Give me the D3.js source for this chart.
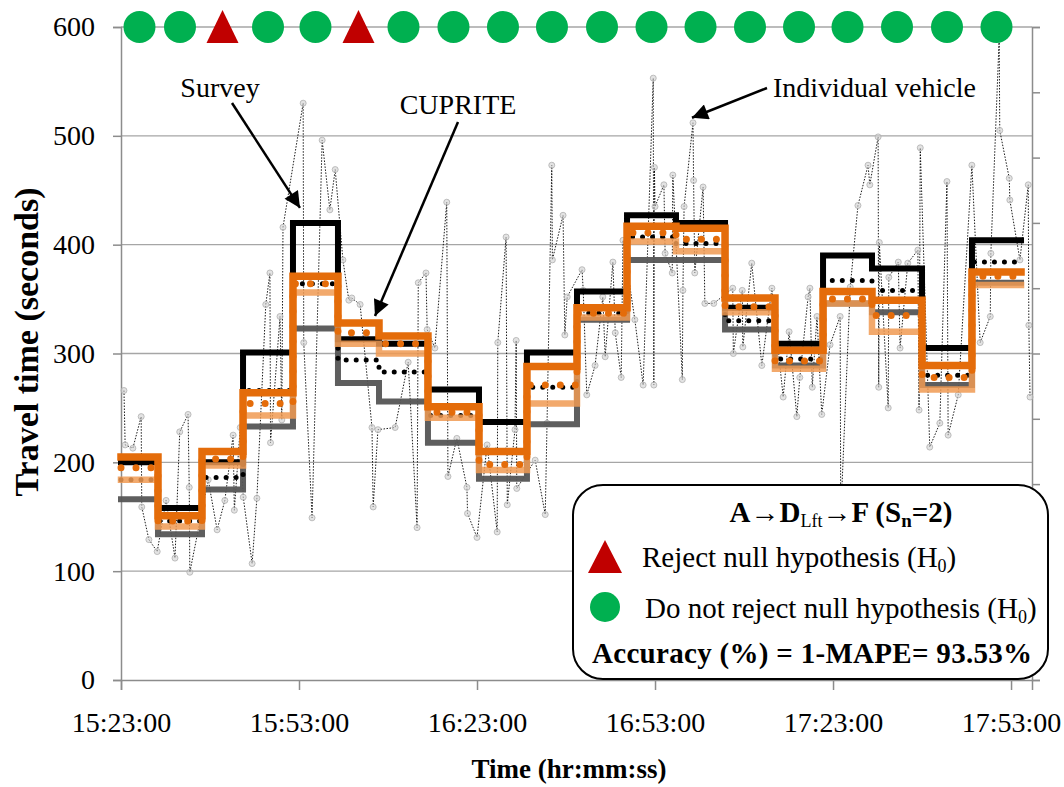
<!DOCTYPE html>
<html>
<head>
<meta charset="utf-8">
<script src="https://cdn.jsdelivr.net/npm/d3@7"></script>
<style>
  body { margin: 0; background: #fff; }
  text { font-family: "Liberation Serif", "Times New Roman", serif; fill: #000; }
</style>
</head>
<body>
<svg id="chart" width="1064" height="787"></svg>
<script>
// survey vs CUPRITE step bands + individual vehicle travel times, A->D(Lft)->F
const START = "15:23:00";
const X_END = "17:56:32";
const xTicks = ["15:23:00", "15:53:00", "16:23:00", "16:53:00", "17:23:00", "17:53:00"];
const yTicks = [0, 100, 200, 300, 400, 500, 600];

// interval edges (19 intervals)
const stepEdges = ["15:23:00", "15:29:14", "15:36:39", "15:43:34", "15:51:59", "15:59:34", "16:06:29",
  "16:14:44", "16:23:20", "16:31:25", "16:39:51", "16:48:17", "16:56:32", "17:04:48", "17:13:13",
  "17:21:19", "17:29:34", "17:38:00", "17:46:25", "17:54:41"];

const surveyUpper = [200, 158, 200, 301, 420, 313, 309, 267, 237, 301, 357, 427, 420, 342, 309, 390, 378, 305, 404];
const surveyMean  = [184, 146, 186, 266, 364, 294, 283, 243, 211, 269, 337, 407, 401, 330, 295, 367, 358, 280, 384];
const surveyLower = [166, 134, 175, 233, 323, 273, 256, 218, 185, 235, 331, 386, 386, 322, 289, 346, 338, 271, 365];
const cupUpper    = [205, 151, 210, 264, 371, 328, 316, 251, 210, 288, 342, 417, 415, 351, 303, 357, 349, 289, 375];
const cupMean     = [195, 146, 203, 254, 364, 319, 309, 246, 198, 271, 337, 411, 405, 343, 293, 350, 335, 278, 371];
const cupLower    = [184, 141, 197, 243, 356, 309, 300, 241, 193, 254, 333, 403, 394, 338, 286, 346, 320, 267, 363];

// t-test result per interval (top row)
const hypothesis = ["keep", "keep", "reject", "keep", "keep", "reject", "keep", "keep", "keep", "keep",
  "keep", "keep", "keep", "keep", "keep", "keep", "keep", "keep", "keep"];

// individual vehicles: minutes after 15:23:00, travel time (s)
const vehMin = [0.5, 0.7, 2.0, 3.4, 3.5, 4.7, 6.1, 7.6, 9.1, 9.9, 11.3, 11.5, 11.6, 14.7, 16.2, 17.5, 18.9, 19.1,
  20.1, 20.6, 22.1, 22.9, 24.4, 25.1, 25.2, 26.8, 27.1, 27.3, 30.7, 30.8, 32.2, 33.9, 35.2, 36.1, 37.4, 38.4,
  38.9, 40.3, 42.3, 42.5, 43.3, 46.2, 48.4, 49.9, 50.1, 51.4, 51.6, 52.9, 54.9, 55.1, 56.6, 58.3, 58.4, 60.0,
  61.7, 63.4, 63.5, 64.9, 65.1, 66.4, 66.6, 66.7, 69.8, 71.5, 71.8, 72.6, 72.7, 74.5, 74.8, 75.2, 77.7, 77.9,
  78.5, 79.9, 81.2, 81.6, 82.9, 83.3, 84.3, 84.6, 86.6, 88.0, 89.7, 89.8, 89.9, 90.0, 91.5, 91.7, 92.9, 93.0,
  94.6, 94.7, 94.9, 96.4, 96.5, 96.7, 98.1, 98.4, 99.9, 103.1, 103.2, 104.7, 104.8, 106.3, 108.0, 109.7, 111.6,
  112.6, 113.9, 114.4, 115.8, 116.1, 116.5, 117.3, 118.1, 119.5, 121.2, 121.3, 122.9, 124.2, 125.9, 126.2,
  127.6, 127.7, 127.8, 129.3, 129.4, 131.0, 131.3, 132.6, 134.3, 134.5, 134.7, 136.3, 138.0, 139.2, 139.4,
  141.1, 143.4, 144.8, 146.5, 146.6, 148.0, 148.1, 149.7, 149.8, 151.5, 152.9, 153.0, 153.2];
const vehTT = [266, 216, 213, 242, 159, 129, 118, 165, 112, 228, 244, 177, 99, 184, 138, 165, 225, 156,
  232, 168, 107, 167, 345, 374, 218, 334, 239, 416, 530, 310, 149, 496, 432, 469, 386, 349,
  351, 345, 232, 159, 230, 232, 292, 140, 365, 374, 322, 305, 439, 187, 222, 177, 153, 131,
  216, 136, 310, 407, 161, 230, 312, 176, 202, 152, 236, 473, 386, 427, 317, 352, 377, 358,
  262, 289, 352, 297, 384, 319, 278, 404, 331, 271, 553, 271, 471, 435, 455, 392, 374, 464,
  276, 358, 435, 512, 459, 374, 453, 346, 346, 360, 300, 358, 306, 383, 289, 360, 260,
  320, 242, 278, 352, 360, 269, 334, 244, 308, 334, 150, 361, 436, 473, 455,
  499, 269, 402, 250, 370, 384, 305, 383, 395, 248, 489, 214, 236, 458, 225,
  262, 473, 310, 334, 392, 590, 505, 461, 441, 386, 455, 326, 260];

const C = {
  orange: "#E46C0A", lightOrange: "#F09A52", darkGray: "#555555",
  green: "#00B050", red: "#C00000", grid: "#A6A6A6", axis: "#8C8C8C"
};

const svg = d3.select("#chart");
const margin = { left: 121, right: 32, top: 27, bottom: 107 };
const W = 1064, H = 787;

const parse = d3.timeParse("%H:%M:%S");
const t0 = parse(START);
const x = d3.scaleTime().domain([t0, parse(X_END)]).range([margin.left, W - margin.right]);
const y = d3.scaleLinear().domain([0, 600]).range([H - margin.bottom, margin.top]);
const y2 = d3.scaleLinear().domain([0, 1]).range(y.range());

// gridlines
svg.append("g").selectAll("line").data(yTicks.slice(1)).join("line")
  .attr("x1", x.range()[0]).attr("x2", x.range()[1])
  .attr("y1", d => y(d)).attr("y2", d => y(d))
  .attr("stroke", C.grid).attr("stroke-width", 1.3);

// axes
const fontSize = 27;
const gy = svg.append("g").attr("transform", `translate(${margin.left},0)`)
  .call(d3.axisLeft(y).tickValues(yTicks).tickSize(8).tickPadding(18));
const gx = svg.append("g").attr("transform", `translate(0,${y(0)})`)
  .call(d3.axisBottom(x).tickValues(xTicks.map(parse)).tickFormat(d3.timeFormat("%H:%M:%S")).tickSize(10).tickPadding(22));
const gr = svg.append("g").attr("transform", `translate(${x.range()[1]},0)`)
  .call(d3.axisRight(y2).ticks(10).tickFormat("").tickSize(8));
[gx, gy, gr].forEach(g => {
  g.selectAll("path,line").attr("stroke", C.axis).attr("stroke-width", 1.5);
  g.selectAll("text").attr("font-size", 28).attr("font-family", null);
});

// individual vehicle
const veh = vehMin.map((m, i) => [new Date(t0.getTime() + m * 60000), vehTT[i]]);
svg.append("path").datum(veh)
  .attr("d", d3.line().x(d => x(d[0])).y(d => y(d[1])))
  .attr("fill", "none").attr("stroke", "#000").attr("stroke-width", 0.9).attr("stroke-dasharray", "1.5,1.5");
svg.append("g").selectAll("circle").data(veh).join("circle")
  .attr("cx", d => x(d[0])).attr("cy", d => y(d[1])).attr("r", 3)
  .attr("fill", "#d0d0d0").attr("fill-opacity", 0.6).attr("stroke", "#b0b0b0").attr("stroke-width", 0.8);

// step series
const edges = stepEdges.map(parse);
const stepLine = d3.line().curve(d3.curveStepAfter).x(d => x(d[0])).y(d => y(d[1]));
function stepPts(vals) { return edges.map((t, i) => [t, vals[Math.min(i, vals.length - 1)]]); }
function drawStep(vals, stroke, width, opts = {}) {
  svg.append("path").datum(stepPts(vals))
    .attr("d", stepLine).attr("fill", "none")
    .attr("stroke", stroke).attr("stroke-width", width)
    .attr("stroke-opacity", opts.opacity || 1)
    .attr("stroke-linecap", opts.cap || "square")
    .attr("stroke-linejoin", "miter")
    .attr("stroke-dasharray", opts.dash || null);
}
drawStep(surveyLower, C.darkGray, 6, { opacity: 0.95 });
drawStep(surveyUpper, "#000", 6);
drawStep(surveyMean, "#000", 5, { cap: "round", dash: "0,10" });
drawStep(cupLower, C.lightOrange, 6.5, { opacity: 0.85 });
drawStep(cupUpper, C.orange, 7.5);
drawStep(cupMean, C.orange, 7, { cap: "round", dash: "0,15" });

// hypothesis markers on the 600 line
const mids = d3.range(hypothesis.length).map(i => new Date((edges[i].getTime() + edges[i + 1].getTime()) / 2));
const gm = svg.append("g");
gm.selectAll("circle").data(hypothesis.map((h, i) => [h, mids[i]]).filter(d => d[0] === "keep")).join("circle")
  .attr("cx", d => x(d[1])).attr("cy", y(600)).attr("r", 16).attr("fill", C.green);
gm.selectAll("path").data(hypothesis.map((h, i) => [h, mids[i]]).filter(d => d[0] === "reject")).join("path")
  .attr("d", d => `M${x(d[1])},${y(600) - 17}l16,33h-32z`).attr("fill", C.red);

// annotations
const defs = svg.append("defs");
defs.append("marker").attr("id", "ah").attr("viewBox", "0 0 10 10").attr("refX", 10).attr("refY", 5)
  .attr("markerWidth", 22).attr("markerHeight", 16).attr("markerUnits", "userSpaceOnUse").attr("orient", "auto")
  .append("path").attr("d", "M0,0L10,5L0,10z").attr("fill", "#000");
function arrow(x1, y1, x2, y2) {
  svg.append("line").attr("x1", x1).attr("y1", y1).attr("x2", x2).attr("y2", y2)
    .attr("stroke", "#000").attr("stroke-width", 2.5).attr("marker-end", "url(#ah)");
}
const sx = x(edges[4]) + 7, sy = y(surveyUpper[4]) - 15;
arrow(232, 103, sx, sy);
svg.append("text").attr("x", 220).attr("y", 97).attr("text-anchor", "middle").attr("font-size", 28).text("Survey");
const cx = x(edges[6]) - 4, cy = y(cupUpper[5]) - 7;
arrow(458, 122, cx, cy);
svg.append("text").attr("x", 458).attr("y", 114).attr("text-anchor", "middle").attr("font-size", 28).text("CUPRITE");
const vi = 93;
arrow(767, 88, x(veh[vi][0]) - 1, y(veh[vi][1]) - 5);
svg.append("text").attr("x", 773).attr("y", 97).attr("font-size", 28).text("Individual vehicle");

// axis titles
svg.append("text").attr("transform", "translate(38,342) rotate(-90)").attr("text-anchor", "middle")
  .attr("font-size", 34).attr("font-weight", "bold").text("Travel time (seconds)");
svg.append("text").attr("x", 569).attr("y", 778).attr("text-anchor", "middle")
  .attr("font-size", fontSize).attr("font-weight", "bold").text("Time (hr:mm:ss)");

// legend box
const lf = 29;
const lg = svg.append("g").attr("transform", "translate(573,485)");
lg.append("rect").attr("width", 475).attr("height", 194).attr("rx", 30).attr("ry", 30)
  .attr("fill", "#fff").attr("stroke", "#000").attr("stroke-width", 2);
const title = lg.append("text").attr("x", 268).attr("y", 37).attr("text-anchor", "middle")
  .attr("font-size", lf).attr("font-weight", "bold");
title.append("tspan").text("A→D");
title.append("tspan").attr("font-size", 18).attr("font-weight", "normal").attr("dy", 5).text("Lft");
title.append("tspan").attr("dy", -5).text("→F (S");
title.append("tspan").attr("font-size", 19).attr("dy", 5).text("n");
title.append("tspan").attr("dy", -5).text("=2)");
lg.append("path").attr("d", "M32,55l17,33h-34z").attr("fill", C.red);
const t1 = lg.append("text").attr("x", 69).attr("y", 82).attr("font-size", lf);
t1.append("tspan").text("Reject null hypothesis (H");
t1.append("tspan").attr("font-size", 18).attr("dy", 5).text("0");
t1.append("tspan").attr("dy", -5).text(")");
lg.append("circle").attr("cx", 32).attr("cy", 122).attr("r", 15).attr("fill", C.green);
const t2 = lg.append("text").attr("x", 72).attr("y", 133).attr("font-size", lf);
t2.append("tspan").text("Do not reject null hypothesis (H");
t2.append("tspan").attr("font-size", 18).attr("dy", 5).text("0");
t2.append("tspan").attr("dy", -5).text(")");
lg.append("text").attr("x", 19).attr("y", 178).attr("font-size", lf).attr("font-weight", "bold")
  .attr("letter-spacing", 0.3).text("Accuracy (%) = 1-MAPE= 93.53%");
</script>
</body>
</html>
